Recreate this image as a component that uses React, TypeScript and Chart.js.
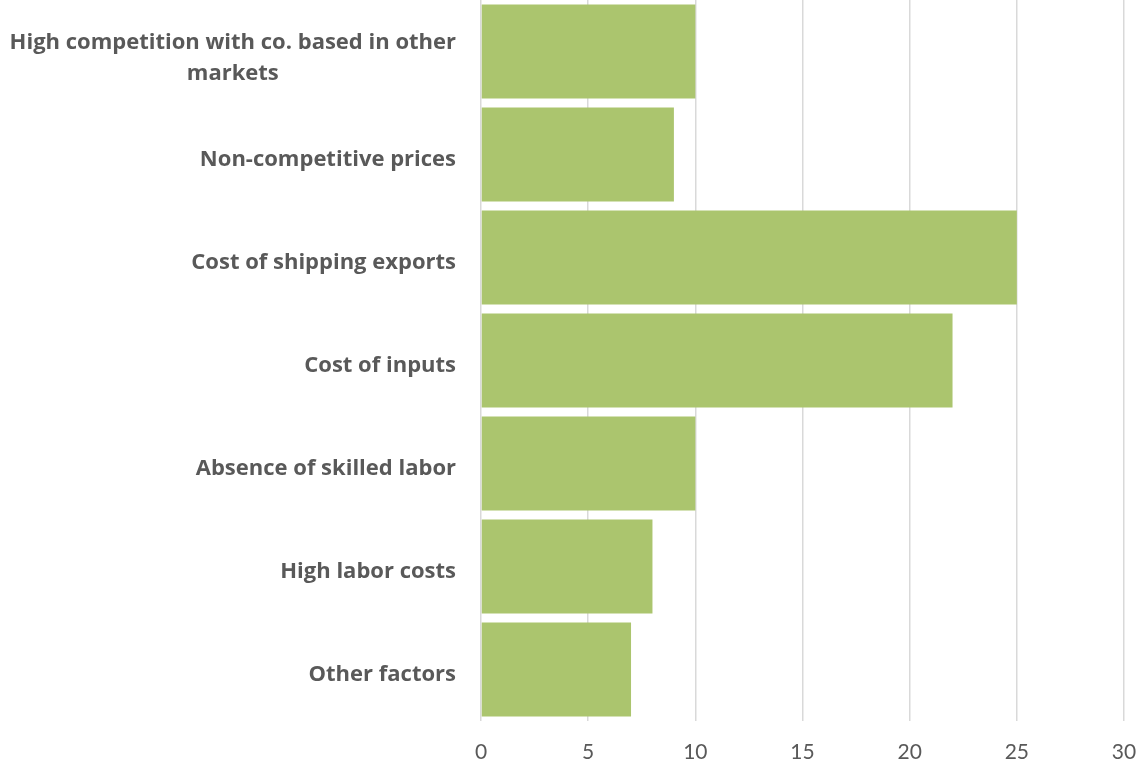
import React, { useEffect, useRef } from "react";
import { Chart, registerables } from "chart.js";

Chart.register(...registerables);

const categories: string[][] = [
  ["High competition with co. based in other", "markets"],
  ["Non-competitive prices"],
  ["Cost of shipping exports"],
  ["Cost of inputs"],
  ["Absence of skilled labor"],
  ["High labor costs"],
  ["Other factors"],
];
const values: number[] = [10, 9, 25, 22, 10, 8, 7];
const xMin = 0;
const xMax = 30;
const xStep = 5;

const LABEL_FONT = "bold 22px 'Open Sans'";
const LABEL_COLOR = "#595959";

const categoryLabelPlugin = {
  id: "categoryLabels",
  afterDraw(chart: any) {
    const ctx = chart.ctx;
    const yScale = chart.scales.y;
    const rightEdge = chart.chartArea.left - 25;
    const lineHeight = 31;
    ctx.save();
    ctx.font = LABEL_FONT;
    ctx.fillStyle = LABEL_COLOR;
    ctx.textBaseline = "middle";
    categories.forEach((lines, i) => {
      const yc = yScale.getPixelForValue(i) + 5 + (lines.length > 1 ? 2 : 0);
      const widths = lines.map((l) => ctx.measureText(l).width);
      const maxW = Math.max(...widths);
      const cx = rightEdge - maxW / 2;
      const top = yc - ((lines.length - 1) * lineHeight) / 2;
      ctx.textAlign = "center";
      lines.forEach((l, j) => {
        ctx.fillText(l, cx, top + j * lineHeight);
      });
    });
    ctx.restore();
  },
};

export default function App() {
  const ref = useRef<HTMLCanvasElement>(null);
  useEffect(() => {
    if (!ref.current) return;
    const chart = new Chart(ref.current, {
      type: "bar",
      data: {
        labels: categories.map((c) => c.join(" ")),
        datasets: [
          {
            data: values,
            backgroundColor: "#abc56e",
            borderWidth: 0,
            barPercentage: 0.915,
            categoryPercentage: 1,
          },
        ],
      },
      options: {
        indexAxis: "y",
        animation: false,
        responsive: false,
        maintainAspectRatio: false,
        layout: { padding: { left: 481, right: 0, top: 0, bottom: 0 } },
        plugins: { legend: { display: false }, tooltip: { enabled: false } },
        scales: {
          x: {
            min: xMin,
            max: xMax,
            ticks: {
              stepSize: xStep,
              color: "#595959",
              font: { family: "Lato", size: 21 },
              padding: 19,
            },
            grid: { color: "#d9d9d9", lineWidth: 1.5, drawTicks: false },
            border: { display: false },
            afterFit(scale: any) {
              scale.height = 42;
              scale.paddingRight = 13;
              scale.paddingLeft = 0;
            },
          },
          y: {
            display: false,
            grid: { display: false },
          },
        },
      },
      plugins: [categoryLabelPlugin],
    });
    return () => chart.destroy();
  }, []);
  return (
    <div style={{ position: "absolute", left: 0, top: 0, width: 1137, height: 763, background: "#fff" }}>
      <canvas ref={ref} width={1137} height={763} style={{ width: 1137, height: 763 }} />
    </div>
  );
}
